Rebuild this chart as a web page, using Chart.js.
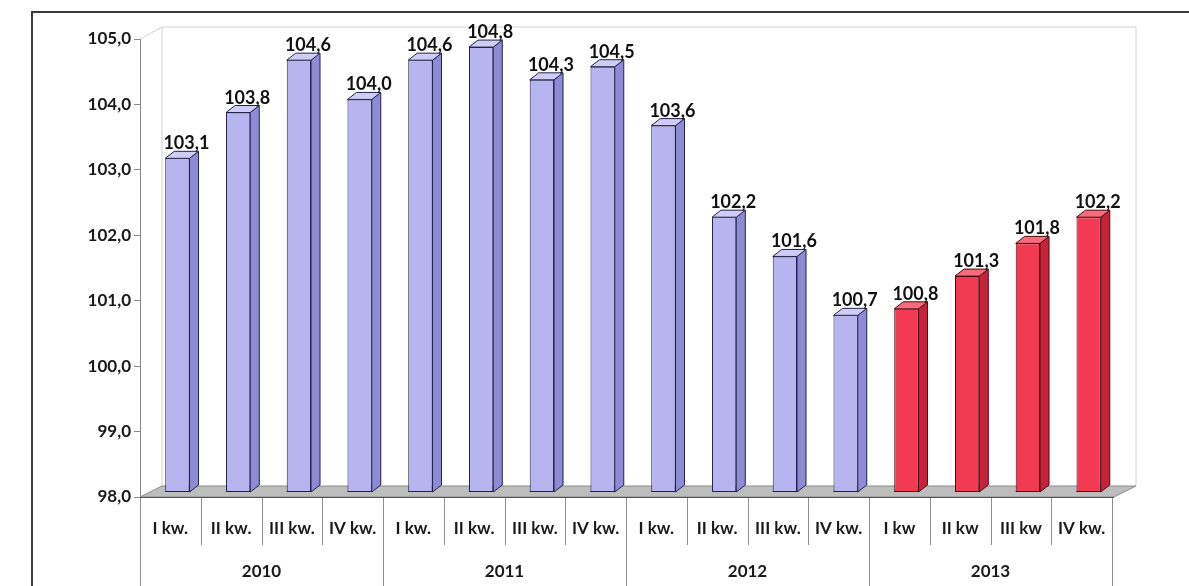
<!DOCTYPE html>
<html>
<head>
<meta charset="utf-8">
<script src="https://cdn.jsdelivr.net/npm/chart.js@4"></script>
<style>
  html, body { margin: 0; padding: 0; background: #ffffff; }
  #wrap { width: 1189px; height: 586px; position: relative; }
</style>
</head>
<body>
<div id="wrap"><canvas id="chart"></canvas></div>
<script>
const quarters = ['I kw.', 'II kw.', 'III kw.', 'IV kw.',
                  'I kw.', 'II kw.', 'III kw.', 'IV kw.',
                  'I kw.', 'II kw.', 'III kw.', 'IV kw.',
                  'I kw', 'II kw', 'III kw', 'IV kw.'];
const years = ['2010', '2011', '2012', '2013'];
const values = [103.1, 103.8, 104.6, 104.0,
                104.6, 104.8, 104.3, 104.5,
                103.6, 102.2, 101.6, 100.7,
                100.8, 101.3, 101.8, 102.2];
const yTicks = [98, 99, 100, 101, 102, 103, 104, 105];

const FONT = "Lato, 'Open Sans', sans-serif";
const SHIFT = { x: 7, y: -5 };   // bars sit mid-depth on the floor
const DEPTH = { x: 9, y: -7 };   // 3d side/top of each bar

const COLORS = {
    lilac: { front: '#b7b5ef', side: '#8d8bd6', top: '#cfcdf7', line: '#23234a' },
    red:   { front: '#f23a52', side: '#c4233a', top: '#f76b7c', line: '#4a0a12' }
};

function palette(i) {
    return i >= 12 ? COLORS.red : COLORS.lilac;
}

function fmt(v) {
    return v.toFixed(1).replace('.', ',');
}

const scene = {
    id: 'scene',
    beforeDraw(chart) {
        const ctx = chart.ctx;
        ctx.save();
        ctx.strokeStyle = '#3a3a3a';
        ctx.lineWidth = 2;
        ctx.beginPath();
        ctx.moveTo(32, 587);
        ctx.lineTo(32, 12);
        ctx.lineTo(1189, 12);
        ctx.stroke();
        ctx.restore();
    },
    beforeDatasetsDraw(chart) {
        const ctx = chart.ctx;
        const a = chart.chartArea;
        const bx = 22, by = -11;
        ctx.save();
        // back wall
        ctx.strokeStyle = '#d2d2d2';
        ctx.lineWidth = 1;
        ctx.beginPath();
        ctx.moveTo(a.left, a.top);
        ctx.lineTo(a.left + bx, a.top - 12);
        ctx.lineTo(a.right + bx + 2, a.top - 12);
        ctx.lineTo(a.right + bx + 2, a.bottom + by);
        ctx.moveTo(a.left + bx, a.top - 12);
        ctx.lineTo(a.left + bx, a.bottom + by);
        ctx.stroke();
        // floor
        ctx.fillStyle = '#bdbdbd';
        ctx.beginPath();
        ctx.moveTo(a.left, a.bottom);
        ctx.lineTo(a.right + 2, a.bottom);
        ctx.lineTo(a.right + bx + 2, a.bottom + by);
        ctx.lineTo(a.left + bx, a.bottom + by);
        ctx.closePath();
        ctx.fill();
        ctx.strokeStyle = '#8a8a8a';
        ctx.stroke();
        // table under the category axis
        const x = chart.scales.x;
        const step = x.getPixelForValue(1) - x.getPixelForValue(0);
        ctx.strokeStyle = '#8f8f8f';
        ctx.beginPath();
        for (let i = 0; i <= quarters.length; i++) {
            const px = Math.round(x.getPixelForValue(i) - step / 2) + 0.5;
            ctx.moveTo(px, a.bottom);
            ctx.lineTo(px, i % 4 === 0 ? 586 : a.bottom + 48);
        }
        ctx.stroke();
        ctx.strokeStyle = '#555';
        ctx.beginPath();
        ctx.moveTo(a.left, a.bottom + 0.5);
        ctx.lineTo(a.right + 2, a.bottom + 0.5);
        ctx.stroke();
        ctx.restore();

        ctx.save();
        ctx.translate(SHIFT.x, SHIFT.y);
    },
    afterDatasetsDraw(chart) {
        const ctx = chart.ctx;
        const meta = chart.getDatasetMeta(0);
        const floorY = chart.scales.y.bottom;
        meta.data.forEach((bar, i) => {
            const c = palette(i);
            const p = bar.getProps(['x', 'y', 'base', 'width'], true);
            const base = Math.min(p.base, floorY);
            const l = p.x - p.width / 2, r = p.x + p.width / 2;
            ctx.lineWidth = 1;
            ctx.strokeStyle = c.line;
            // side face
            ctx.fillStyle = c.side;
            ctx.beginPath();
            ctx.moveTo(r, p.y);
            ctx.lineTo(r + DEPTH.x, p.y + DEPTH.y);
            ctx.lineTo(r + DEPTH.x, base + DEPTH.y);
            ctx.lineTo(r, base);
            ctx.closePath();
            ctx.fill();
            ctx.stroke();
            // top face
            ctx.fillStyle = c.top;
            ctx.beginPath();
            ctx.moveTo(l, p.y);
            ctx.lineTo(l + DEPTH.x, p.y + DEPTH.y);
            ctx.lineTo(r + DEPTH.x, p.y + DEPTH.y);
            ctx.lineTo(r, p.y);
            ctx.closePath();
            ctx.fill();
            ctx.stroke();
            // bottom edge of the front face
            ctx.beginPath();
            ctx.moveTo(l, base - 0.5);
            ctx.lineTo(r, base - 0.5);
            ctx.stroke();
            // value label
            ctx.fillStyle = '#111';
            ctx.font = 'bold 18px ' + FONT;
            ctx.textAlign = 'center';
            ctx.textBaseline = 'alphabetic';
            ctx.fillText(fmt(values[i]), p.x + 9, p.y - 9);
        });
        ctx.restore();
    }
};

new Chart(document.getElementById('chart'), {
    type: 'bar',
    data: {
        labels: quarters,
        datasets: [{
            data: values,
            backgroundColor: values.map((v, i) => palette(i).front),
            borderColor: values.map((v, i) => palette(i).line),
            borderWidth: 1,
            borderSkipped: false,
            barPercentage: 0.4,
            categoryPercentage: 1
        }]
    },
    options: {
        responsive: true,
        maintainAspectRatio: false,
        animation: false,
        events: [],
        layout: { padding: { left: 0, top: 39, right: 77, bottom: 0 } },
        plugins: {
            legend: { display: false },
            tooltip: { enabled: false }
        },
        scales: {
            y: {
                min: 98,
                max: 105,
                afterFit: s => { s.width = 140; },
                afterBuildTicks: s => { s.ticks = yTicks.map(v => ({ value: v })); },
                border: { display: true, color: '#8a8a8a' },
                grid: { drawOnChartArea: false, tickLength: 6, color: '#8a8a8a' },
                ticks: {
                    padding: 3,
                    color: '#1a1a1a',
                    font: { family: FONT, size: 17, weight: 'bold' },
                    callback: v => fmt(v)
                }
            },
            x: {
                weight: 0,
                afterFit: s => { s.height = 50; },
                border: { display: false },
                grid: { display: false },
                ticks: {
                    padding: 13,
                    color: '#1a1a1a',
                    maxRotation: 0,
                    autoSkip: false,
                    font: { family: FONT, size: 17, weight: 'bold' }
                }
            },
            x2: {
                type: 'category',
                labels: years,
                position: 'bottom',
                offset: true,
                weight: 1,
                afterFit: s => { s.height = 39; },
                border: { display: false },
                grid: { display: false },
                ticks: {
                    padding: 6,
                    color: '#1a1a1a',
                    maxRotation: 0,
                    font: { family: FONT, size: 17, weight: 'bold' }
                }
            }
        }
    },
    plugins: [scene]
});
</script>
</body>
</html>
